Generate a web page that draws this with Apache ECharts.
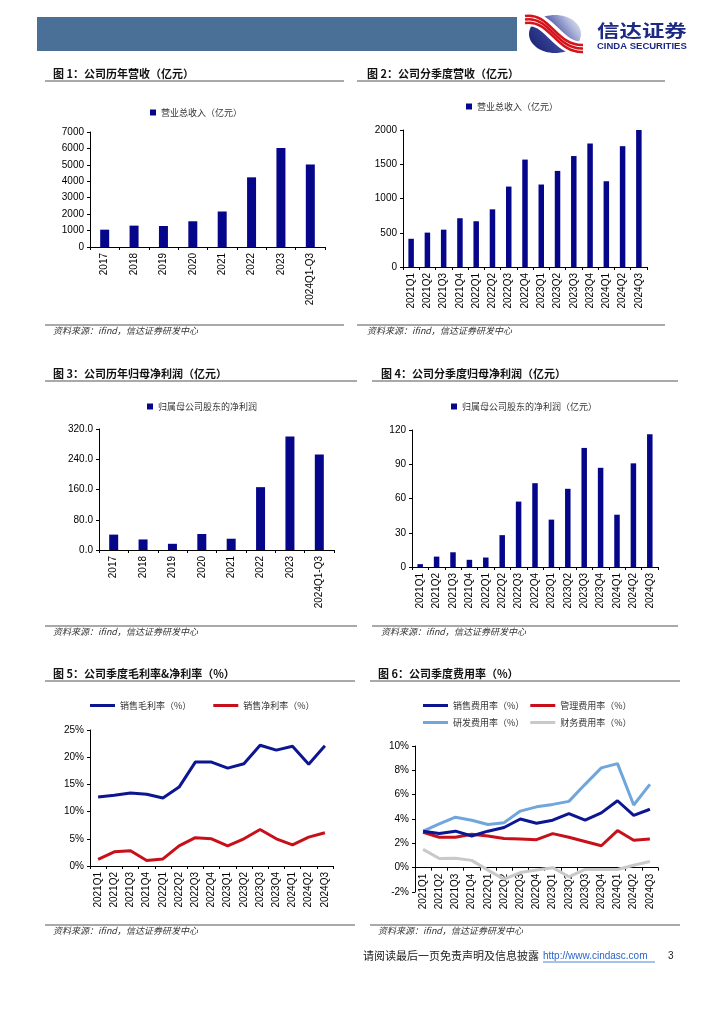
<!DOCTYPE html>
<html><head><meta charset="utf-8">
<script src="https://cdn.jsdelivr.net/npm/echarts@6/dist/echarts.min.js"></script>
<style>html,body{margin:0;padding:0;background:#fff}#c{width:724px;height:1024px}</style>
</head><body><div id="c"></div>
<script>
// ---- data ----
const yearCats = ['2017','2018','2019','2020','2021','2022','2023','2024Q1-Q3'];
const quarterCats = ['2021Q1','2021Q2','2021Q3','2021Q4','2022Q1','2022Q2','2022Q3','2022Q4','2023Q1','2023Q2','2023Q3','2023Q4','2024Q1','2024Q2','2024Q3'];
const annualRevenue = [1054, 1301, 1277, 1566, 2161, 4241, 6023, 5023];
const quarterRevenue = [412, 502, 545, 712, 668, 842, 1174, 1568, 1204, 1403, 1620, 1803, 1252, 1764, 2010];
const annualProfit = [40.7, 27.9, 16.4, 42.3, 29.8, 166.2, 300.4, 252.4];
const quarterProfit = [2.5, 9.1, 12.9, 6.3, 8.3, 27.9, 57.3, 73.4, 41.5, 68.5, 104.3, 86.9, 45.8, 90.8, 116.3];
const grossMargin = [12.7, 13.0, 13.4, 13.2, 12.5, 14.5, 19.1, 19.1, 18.0, 18.8, 22.2, 21.3, 22.0, 18.7, 22.1];
const netMargin = [1.2, 2.6, 2.8, 1.0, 1.3, 3.7, 5.2, 5.0, 3.7, 5.0, 6.7, 5.0, 3.9, 5.3, 6.1];
const sellingRate = [3.0, 2.8, 3.0, 2.6, 3.0, 3.3, 4.0, 3.65, 3.9, 4.45, 3.9, 4.5, 5.5, 4.3, 4.8];
const adminRate = [2.9, 2.5, 2.5, 2.75, 2.6, 2.4, 2.35, 2.3, 2.8, 2.5, 2.15, 1.8, 3.05, 2.25, 2.35];
const rdRate = [3.0, 3.6, 4.15, 3.9, 3.55, 3.7, 4.65, 5.0, 5.2, 5.45, 6.85, 8.2, 8.55, 5.15, 6.85];
const financeRate = [1.5, 0.75, 0.77, 0.6, -0.2, -0.95, -0.4, -0.2, 0.0, -0.75, -0.15, -0.15, -0.15, 0.2, 0.5];

const yTicks1 = {min:0, max:7000, interval:1000};
const yTicks2 = {min:0, max:2000, interval:500};
const yTicks3 = {min:0, max:320, interval:80};
const yTicks4 = {min:0, max:120, interval:30};
const yTicks5 = {min:0, max:25, interval:5};
const yTicks6 = {min:-2, max:10, interval:2};

// ---- styles ----
const NAVY = '#06068a';
const CJK = '"Noto Sans CJK SC", sans-serif';
const NUM = '"Liberation Sans", Arial, sans-serif';
const chart = echarts.init(document.getElementById('c'), null, {renderer:'canvas'});

function valAxis(idx, t, fmt){
  return {type:'value', gridIndex:idx, min:t.min, max:t.max, interval:t.interval,
    splitLine:{show:false},
    axisLine:{show:true, lineStyle:{color:'#000', width:1}},
    axisTick:{show:true, length:3, lineStyle:{color:'#000'}},
    axisLabel:{color:'#000', fontSize:10, fontFamily:NUM, margin:6, formatter:fmt || (v => String(v))}};
}
function catAxis(idx, cats, extra){
  return Object.assign({type:'category', gridIndex:idx, data:cats, boundaryGap:true,
    axisLine:{show:true, onZero:false, lineStyle:{color:'#000', width:1}},
    axisTick:{show:true, length:3, lineStyle:{color:'#000'}},
    axisLabel:{color:'#000', fontSize:10, fontFamily:NUM, rotate:90, interval:0, margin:6}}, extra || {});
}
function legendBox(left, top, names, opts){
  return Object.assign({left:left, top:top, padding:0, data:names, icon:'rect', itemWidth:6, itemHeight:6, itemGap:10,
    textStyle:{fontSize:9, fontFamily:CJK, color:'#333'}, selectedMode:false}, opts||{});
}
function title(x, y, t){
  return {type:'text', x:x, y:y, style:{text:t, font:'bold 11px ' + CJK, fill:'#111', align:'left', verticalAlign:'middle'}};
}
function src(x, y){
  return {type:'text', x:x, y:y, style:{text:'资料来源：ifind，信达证券研发中心', font:'italic 9px ' + CJK, fill:'#333', align:'left', verticalAlign:'middle'}};
}
function hline(x1, x2, y){
  return {type:'line', shape:{x1:x1, y1:y, x2:x2, y2:y}, style:{stroke:'#8c8c8c', lineWidth:1.5}};
}
function lineSeries(name, data, color, idx){
  return {type:'line', name:name, data:data, xAxisIndex:idx, yAxisIndex:idx, symbol:'none',
    lineStyle:{color:color, width:3}, itemStyle:{color:color}};
}
function swoosh(dy, color, w){
  return {type:'bezierCurve', shape:{x1:525, y1:16+dy, cpx1:550, cpy1:12+dy, cpx2:556, cpy2:46+dy, x2:583, y2:45+dy},
    style:{stroke:color, lineWidth:w, fill:null}};
}

// grid 6: zero line position for the category axis
const g6 = {left:415, top:746, width:243, height:146};
const zeroOffset6 = -g6.height * (0 - yTicks6.min) / (yTicks6.max - yTicks6.min);

const pct = '{value}%';
const option = {
  backgroundColor:'#fff',
  animation:false,
  grid:[
    {left:90, top:132, width:235, height:115},
    {left:403, top:130, width:244, height:137},
    {left:99, top:429, width:235, height:121},
    {left:412, top:430, width:246, height:137},
    {left:90, top:730, width:243, height:136},
    g6
  ],
  xAxis:[catAxis(0, yearCats), catAxis(1, quarterCats), catAxis(2, yearCats), catAxis(3, quarterCats), catAxis(4, quarterCats),
         catAxis(5, quarterCats, {offset: zeroOffset6})],
  yAxis:[valAxis(0, yTicks1), valAxis(1, yTicks2), valAxis(2, yTicks3, v => v.toFixed(1)), valAxis(3, yTicks4), valAxis(4, yTicks5, pct), valAxis(5, yTicks6, pct)],
  legend:[
    legendBox(150, 108, ['营业总收入（亿元）']),
    legendBox(466, 102, ['营业总收入（亿元）']),
    legendBox(147, 402, ['归属母公司股东的净利润']),
    legendBox(451, 402, ['归属母公司股东的净利润（亿元）']),
    legendBox(90, 701, ['销售毛利率（%）','销售净利率（%）'], {itemWidth:25, itemHeight:3, itemGap:22}),
    legendBox(423, 701, ['销售费用率（%）','管理费用率（%）'], {itemWidth:25, itemHeight:3, itemGap:6}),
    legendBox(423, 718, ['研发费用率（%）','财务费用率（%）'], {itemWidth:25, itemHeight:3, itemGap:6})
  ],
  series:[
    {type:'bar', name:'营业总收入（亿元）', data:annualRevenue, xAxisIndex:0, yAxisIndex:0, barWidth:9, itemStyle:{color:NAVY}},
    {type:'bar', name:'营业总收入（亿元）', data:quarterRevenue, xAxisIndex:1, yAxisIndex:1, barWidth:5.5, itemStyle:{color:NAVY}},
    {type:'bar', name:'归属母公司股东的净利润', data:annualProfit, xAxisIndex:2, yAxisIndex:2, barWidth:9, itemStyle:{color:NAVY}},
    {type:'bar', name:'归属母公司股东的净利润（亿元）', data:quarterProfit, xAxisIndex:3, yAxisIndex:3, barWidth:5.5, itemStyle:{color:NAVY}},
    lineSeries('销售毛利率（%）', grossMargin, '#0c1690', 4),
    lineSeries('销售净利率（%）', netMargin, '#c8101a', 4),
    lineSeries('财务费用率（%）', financeRate, '#c9c9c9', 5),
    lineSeries('管理费用率（%）', adminRate, '#c8101a', 5),
    lineSeries('研发费用率（%）', rdRate, '#6fa6dc', 5),
    lineSeries('销售费用率（%）', sellingRate, '#0c1690', 5)
  ],
  graphic:[
    // header
    {type:'rect', shape:{x:37, y:17, width:480, height:34}, style:{fill:'#4a7098'}},
    {type:'ellipse', shape:{cx:555, cy:34, rx:26, ry:19},
      style:{fill:new echarts.graphic.LinearGradient(0, 1, 1, 0, [{offset:0, color:'#141c6e'}, {offset:0.45, color:'#3a4598'}, {offset:0.8, color:'#b9bfe0'}, {offset:1, color:'#eef0f8'}])}},
    swoosh(3.5, '#ffffff', 14),
    swoosh(0, '#d5131b', 2.6),
    swoosh(3.5, '#d5131b', 2.6),
    swoosh(7, '#d5131b', 2.6),
    {type:'text', x:597, y:31, scaleX:1.32, style:{text:'信达证券', font:'bold 17px ' + CJK, fill:'#1d2a84', align:'left', verticalAlign:'middle'}},
    {type:'text', x:597, y:46, style:{text:'CINDA SECURITIES', font:'bold 9.5px ' + NUM, fill:'#1d2a84', align:'left', verticalAlign:'middle'}},
    // panel titles & rules
    title(53, 74, '图 1：公司历年营收（亿元）'), hline(45, 344, 81),
    title(367, 74, '图 2：公司分季度营收（亿元）'), hline(357, 665, 81),
    title(53, 374, '图 3：公司历年归母净利润（亿元）'), hline(45, 357, 381),
    title(381, 374, '图 4：公司分季度归母净利润（亿元）'), hline(372, 678, 381),
    title(53, 674, '图 5：公司季度毛利率&净利率（%）'), hline(45, 355, 681),
    title(378, 674, '图 6：公司季度费用率（%）'), hline(370, 680, 681),
    // source lines
    hline(45, 344, 325), src(53, 331),
    hline(357, 665, 325), src(367, 331),
    hline(45, 357, 626), src(53, 632),
    hline(372, 678, 626), src(381, 632),
    hline(45, 355, 925), src(53, 931),
    hline(370, 680, 925), src(378, 931),
    // footer
    {type:'text', x:363, y:956, style:{text:'请阅读最后一页免责声明及信息披露', font:'11px ' + CJK, fill:'#222', align:'left', verticalAlign:'middle'}},
    {type:'text', x:543, y:956, style:{text:'http://www.cindasc.com', font:'10px ' + NUM, fill:'#2a64c8', align:'left', verticalAlign:'middle'}},
    {type:'line', shape:{x1:543, y1:962, x2:655, y2:962}, style:{stroke:'#2a64c8', lineWidth:0.8}},
    {type:'text', x:668, y:956, style:{text:'3', font:'10px ' + NUM, fill:'#222', align:'left', verticalAlign:'middle'}}
  ]
};
chart.setOption(option);
</script>
</body></html>
